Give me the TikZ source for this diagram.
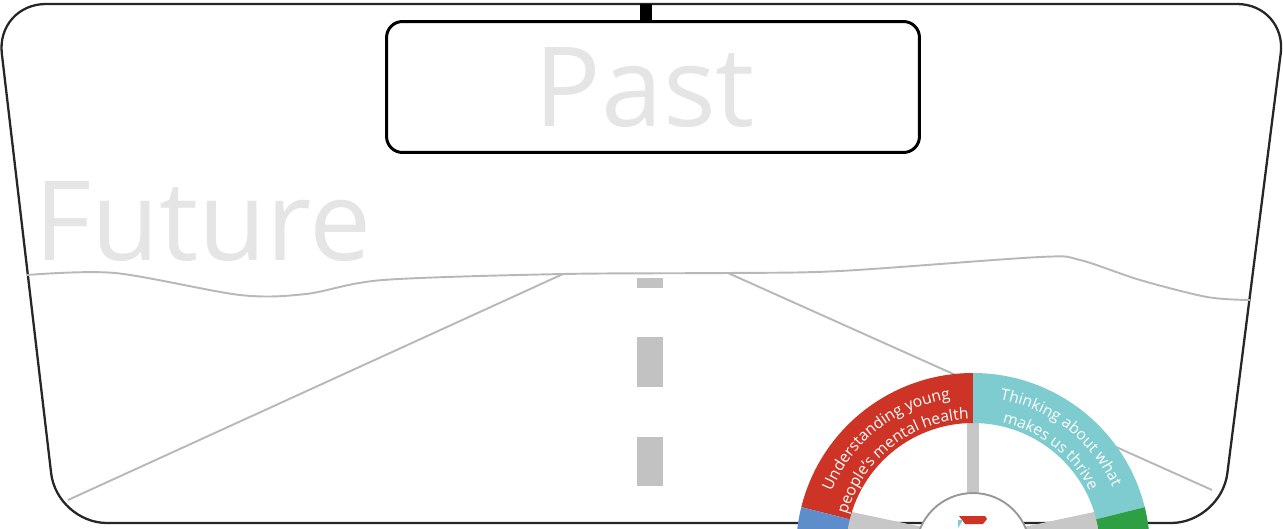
\documentclass[tikz,border=0pt]{standalone}
\usepackage{fontspec}
\setmainfont{Open Sans}
\usetikzlibrary{calc,positioning,decorations.text}

\begin{document}
\begin{tikzpicture}[x=0.02cm,y=0.02cm,thick,
  glass/.style={line width=1.3pt,draw=black!85,rounded corners=1cm},
  road/.style={line width=1.1pt,draw=black!28},
  faded/.style={text=black!10,inner sep=0pt,font=\fontsize{63}{63}\selectfont},
  mirror/.style={draw=black,line width=1.7pt,rounded corners=0.32cm,
    minimum width=10.66cm,minimum height=2.62cm,inner sep=0pt},
  lane/.style={fill=black!24},
  spoke/.style={fill=black!22},
  rimtext/.style={decorate,decoration={text along path,text align=center,
    text color=white,text={|\rimfont|#1}}}]
\def\rimfont{\fontsize{8.9}{8.9}\selectfont}
\definecolor{understanding}{RGB}{205,52,38}
\definecolor{thriving}{RGB}{126,204,208}
\definecolor{connecting}{RGB}{94,141,204}
\definecolor{acting}{RGB}{46,160,67}
\useasboundingbox (0,0) rectangle (1283,528);

% windscreen frame
\coordinate (tl) at (-4,524);
\coordinate (tr) at (1287,524);
\coordinate (br) at (1221,5);
\coordinate (bl) at (57,5);
\draw[glass] (640,524) -- (tr) -- (br) -- (bl) -- (tl) -- cycle;

% rear view mirror
\node[mirror] (mirror) at (653,441) {};
\coordinate (mount) at (646,524);
\draw[line width=6.5pt] (mount) -- (mount |- mirror.north);
\node[faded,anchor=base] (past) at (645,401) {Past};
\node[faded,anchor=base west] (future) at (34,268) {Future};

% horizon and road
\draw[road] plot[smooth,tension=0.5] coordinates {(27,253) (115,255) (240,233)
  (306,234) (383,248) (563,254) (728,255) (840,257) (1040,271) (1080,268)
  (1140,248) (1207,231) (1250,228)};
\coordinate (vl) at (563,254);
\coordinate (vr) at (728,255);
\coordinate (el) at (68,28);
\coordinate (er) at (1212,38);
\draw[road] (vl) -- (el);
\draw[road] (vr) -- (er);
\foreach \ya/\yb in {240/250,141/191,42/91}
  \fill[lane] (637,\ya) rectangle (663,\yb);

% steering wheel
\coordinate (wheel) at (973,-22);
\begin{scope}
\clip (0,0) rectangle (1283,528);
\begin{scope}[shift={(wheel)}]
\fill[spoke] (-6,40) rectangle (6,130);
\foreach \a in {12,168}
  \fill[spoke,rotate=\a] (0,-12) rectangle (130,12);
\foreach \from/\to/\col in {90/166/understanding,166/215/connecting,
  14/90/thriving,-35/14/acting}
  \fill[\col] (\from:177) arc[start angle=\from,end angle=\to,radius=177]
    -- (\to:127) arc[start angle=\to,end angle=\from,radius=127] -- cycle;
\node[circle,draw=black!40,line width=1.1pt,fill=white,minimum size=2.28cm,
  inner sep=0pt] (hub) at (0,0) {};
\fill[understanding] (-14,34) -- (12,34) -- (14,31) -- (10,26) -- (-8,26) -- cycle;
\fill[thriving] (-15,30) -- (-10,30) -- (-15,22) -- cycle;
\path[rimtext={Understanding young}] (168:153) arc[start angle=168,end angle=88,radius=153];
\path[rimtext={people's mental health}] (168:131) arc[start angle=168,end angle=88,radius=131];
\path[rimtext={Thinking about what}] (92:153) arc[start angle=92,end angle=12,radius=153];
\path[rimtext={makes us thrive}] (92:131) arc[start angle=92,end angle=12,radius=131];
\end{scope}
\end{scope}
\end{tikzpicture}
\end{document}
